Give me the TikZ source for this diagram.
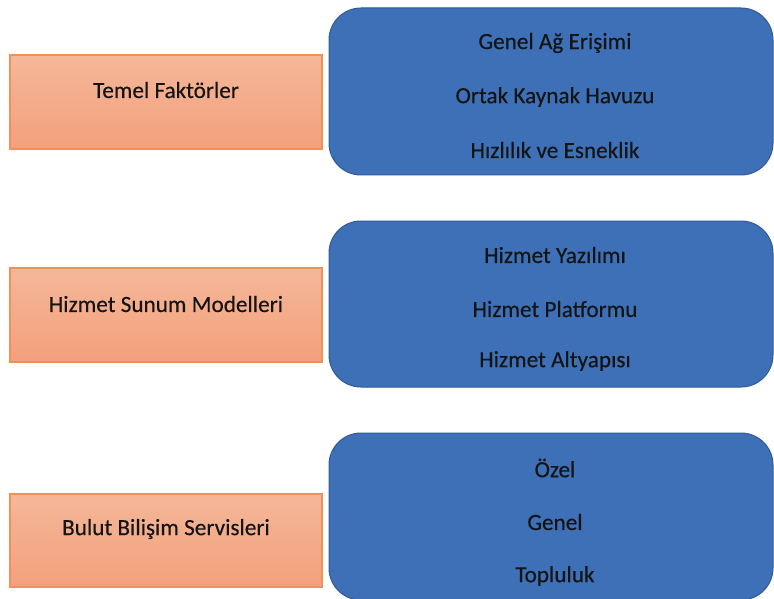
\documentclass[tikz,border=0pt]{standalone}
\usepackage{fontspec}
\setmainfont{Carlito}
\newfontfamily\lblfont{Carlito}[FakeBold=0.35]
\begin{document}
\begin{tikzpicture}[x=1pt,y=-1pt,
  catbox/.style={draw=orangeline,line width=1.2pt,top color=orangetop,bottom color=orangebot,inner sep=0pt},
  itembox/.style={draw=blueline,line width=1pt,fill=bluefill,rounded corners=32pt,inner sep=0pt},
  lbl/.style={font=\lblfont\fontsize{23.2}{27}\selectfont,text=textcol,inner sep=0pt}]
\definecolor{orangeline}{HTML}{F0915A}
\definecolor{orangetop}{HTML}{F5B799}
\definecolor{orangebot}{HTML}{F3A07C}
\definecolor{bluefill}{HTML}{3D70B6}
\definecolor{blueline}{HTML}{2F5A96}
\definecolor{textcol}{HTML}{141414}
\useasboundingbox (0,0) rectangle (774,599);
% category boxes
\draw[catbox] (10,55) rectangle (322,149);
\node[lbl] (c1) at (166,90) {Temel Faktörler};
\draw[catbox] (10,268) rectangle (322,362);
\node[lbl] (c2) at (166,304) {Hizmet Sunum Modelleri};
\draw[catbox] (10,494) rectangle (322,587);
\node[lbl] (c3) at (166,529) {Bulut Bilişim Servisleri};
% item boxes
\draw[itembox] (329,8) rectangle (773,175);
\node[lbl] (a1) at (555,43) {Genel Ağ Erişimi};
\node[lbl] (a2) at (555,97) {Ortak Kaynak Havuzu};
\node[lbl] (a3) at (555,150) {Hızlılık ve Esneklik};
\draw[itembox] (329,221) rectangle (773,387);
\node[lbl] (b1) at (555,255) {Hizmet Yazılımı};
\node[lbl] (b2) at (555,309) {Hizmet Platformu};
\node[lbl] (b3) at (555,361) {Hizmet Altyapısı};
\draw[itembox] (329,433) rectangle (773,600);
\node[lbl] (d1) at (555,468) {Özel};
\node[lbl] (d2) at (555,522) {Genel};
\node[lbl] (d3) at (555,576) {Topluluk};
\end{tikzpicture}
\end{document}
